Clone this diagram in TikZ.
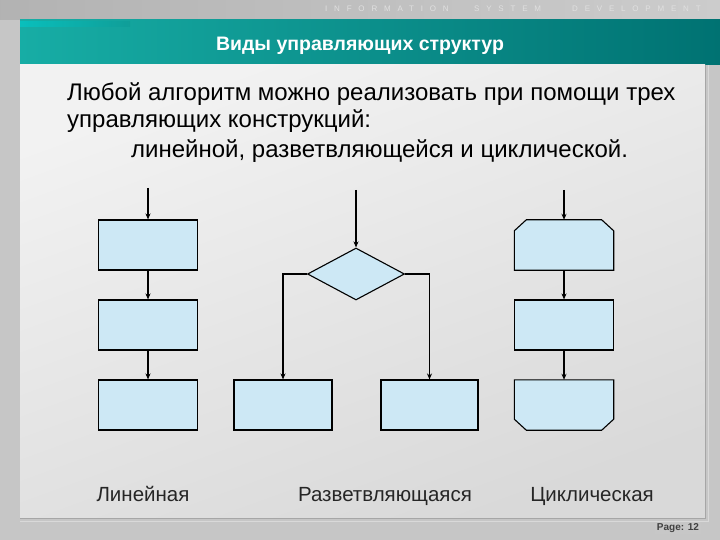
\documentclass[tikz,border=0pt]{standalone}
\usepackage{fontspec}
\setmainfont{Liberation Sans}
\newfontfamily\spacedfont[LetterSpace=85]{Liberation Sans}
\usetikzlibrary{arrows.meta,shapes.geometric}
\definecolor{boxfill}{HTML}{CDE8F5}
\definecolor{tealL}{HTML}{17ADA5}
\definecolor{tealD}{HTML}{007272}
\definecolor{slidegray}{HTML}{C6C6C6}
\tikzset{
  flowbox/.style={draw=black, line width=1.1pt, fill=boxfill, minimum width=99pt, minimum height=50pt, inner sep=0pt},
  flowanchor/.style={minimum width=99pt, minimum height=50pt, inner sep=0pt},
  flowline/.style={draw=black, line width=1.1pt, fill=boxfill, line join=miter},
  flowdia/.style={draw=black, line width=1.1pt, fill=boxfill, diamond, aspect=1.87, minimum width=97pt, minimum height=52pt, inner sep=0pt},
  flowarr/.style={-{Stealth[length=6pt,width=5pt]}, line width=1.1pt},
  bodytext/.style={font=\fontsize{24}{28}\selectfont, anchor=base west, inner sep=0pt},
  captext/.style={font=\fontsize{20.5}{24}\selectfont, anchor=base, inner sep=0pt, text=black!85},
  striptext/.style={text=white!88!black, font=\spacedfont\fontsize{8}{9}\selectfont, anchor=base west, inner sep=0pt},
}
\begin{document}
\begin{tikzpicture}[x=1pt,y=-1pt]
\useasboundingbox (0,0) rectangle (720,540);
% slide background
\fill[slidegray] (0,0) rectangle (720,540);
\shade[left color=black!30, right color=black!20] (0,0) rectangle (720,20);
% header bar
\shade[left color=tealL, right color=tealD] (20,20) rectangle (720,65);
\shade[left color=cyan!60!teal, right color=tealL!60!teal, opacity=0.6] (20,22) rectangle (130,27);
% content panel
\shade[top color=black!5, bottom color=black!15, shading angle=20] (20,65) rectangle (705,518);
\draw[black!35, line width=1pt] (705,65) -- (705,518) -- (20,518);
\draw[white!85!black, line width=1pt] (708,65) -- (708,521) -- (20,521);
% top strip text
\node[striptext] (strip1) at (325,12) {INFORMATION};
\node[striptext] (strip2) at (474,12) {SYSTEM};
\node[striptext] (strip3) at (572,12) {DEVELOPMENT};
% title
\node[text=white, font=\bfseries\fontsize{19.5}{23}\selectfont, inner sep=0pt] (title) at (360,46) {Виды управляющих структур};
% body text
\node[bodytext] (t1) at (67,101) {Любой алгоритм можно реализовать при помощи трех};
\node[bodytext] (t2) at (67,128) {управляющих конструкций:};
\node[bodytext] (t3) at (131,158) {линейной, разветвляющейся и циклической.};
% linear
\coordinate (ls) at (148,188);
\node[flowbox] (l1) at (148,245) {};
\node[flowbox] (l2) at (148,325) {};
\node[flowbox] (l3) at (148,405) {};
\draw[flowarr] (ls) -- (l1.north);
\draw[flowarr] (l1) -- (l2);
\draw[flowarr] (l2) -- (l3);
% branching
\coordinate (bs) at (356,190);
\node[flowdia] (d) at (356,274) {};
\node[flowbox, minimum width=98pt] (b1) at (283,405) {};
\node[flowbox, minimum width=97pt] (b2) at (429.5,405) {};
\draw[flowarr] (bs) -- (d.north);
\draw[flowarr] (d.west) -| (b1.north);
\draw[flowarr] (d.east) -| (b2.north);
% cyclic
\coordinate (cs) at (564,190);
\node[flowanchor] (c1) at (564,245) {};
\node[flowbox] (c2) at (564,325) {};
\node[flowanchor] (c3) at (564,405) {};
\path[flowline] ([yshift=-11pt]c1.north west) -- ([xshift=12pt]c1.north west) -- ([xshift=-12pt]c1.north east) -- ([yshift=-11pt]c1.north east) -- (c1.south east) -- (c1.south west) -- cycle;
\path[flowline] (c3.north west) -- (c3.north east) -- ([yshift=11pt]c3.south east) -- ([xshift=-12pt]c3.south east) -- ([xshift=12pt]c3.south west) -- ([yshift=11pt]c3.south west) -- cycle;
\draw[flowarr] (cs) -- (c1.north);
\draw[flowarr] (c1) -- (c2);
\draw[flowarr] (c2) -- (c3);
% captions
\node[captext] (cap1) at (143,501) {Линейная};
\node[captext] (cap2) at (385,501) {Разветвляющаяся};
\node[captext] (cap3) at (592,501) {Циклическая};
% page
\node[fill=black!22, text=black!75, font=\bfseries\fontsize{10}{12}\selectfont, inner sep=1.5pt] (page) at (678,528) {Page: 12};
\end{tikzpicture}
\end{document}
